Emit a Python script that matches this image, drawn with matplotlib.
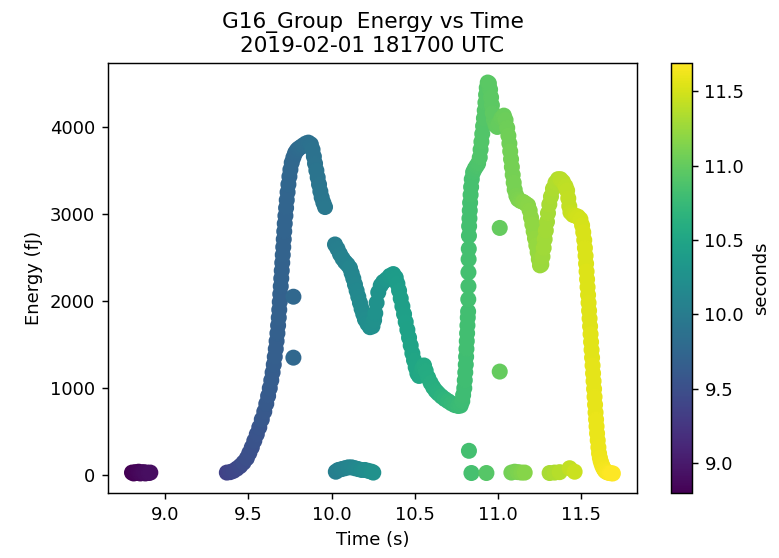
import matplotlib

matplotlib.use("Agg")

import matplotlib.pyplot as plt
import numpy as np

# group times (s) and energies (fJ), split by stretch of the flash
t_precursor = [8.80, 8.81, 8.82, 8.83, 8.84, 8.85, 8.86, 8.87, 8.88, 8.89, 8.90, 8.91]
e_precursor = [30, 20, 35, 25, 40, 20, 30, 35, 20, 30, 25, 30]

t_pulse1 = [
    9.37, 9.39, 9.41, 9.43, 9.45, 9.47, 9.49, 9.505, 9.52, 9.535, 9.55, 9.565,
    9.58, 9.595, 9.607, 9.618, 9.628, 9.637, 9.645, 9.652, 9.658, 9.664, 9.669,
    9.674, 9.678, 9.682, 9.685, 9.688, 9.691, 9.694, 9.697, 9.70, 9.703, 9.706,
    9.709, 9.712, 9.715, 9.718, 9.722, 9.726, 9.73, 9.735, 9.74, 9.746, 9.752,
    9.76, 9.77, 9.78, 9.79, 9.80, 9.815, 9.83, 9.845, 9.86, 9.875, 9.885, 9.893,
    9.90, 9.908, 9.916, 9.924, 9.932, 9.94, 9.95, 9.96,
]
e_pulse1 = [
    30, 35, 50, 75, 105, 145, 195, 255, 320, 395, 470, 550,
    640, 730, 820, 910, 1000, 1090, 1180, 1270, 1360, 1450, 1540,
    1630, 1720, 1810, 1900, 1990, 2080, 2170, 2260, 2350, 2440, 2530,
    2620, 2710, 2800, 2890, 2980, 3070, 3160, 3250, 3340, 3430, 3510,
    3590, 3650, 3700, 3730, 3750, 3770, 3790, 3810, 3820, 3800, 3740, 3660,
    3580, 3500, 3420, 3340, 3260, 3190, 3130, 3080,
]

t_pulse2 = [
    10.02, 10.035, 10.05, 10.065, 10.08, 10.095, 10.11, 10.12, 10.13, 10.14,
    10.15, 10.16, 10.17, 10.18, 10.19, 10.20, 10.215, 10.23, 10.245, 10.255,
    10.262, 10.27, 10.28, 10.295, 10.31, 10.33, 10.35, 10.37, 10.385, 10.395,
    10.405, 10.415, 10.425, 10.435, 10.445, 10.455, 10.465, 10.475, 10.485,
    10.495, 10.505, 10.515, 10.525, 10.535, 10.545, 10.555, 10.565, 10.58,
    10.595, 10.61, 10.625, 10.64, 10.66, 10.68, 10.70, 10.72, 10.74, 10.76,
    10.775,
]
e_pulse2 = [
    2650, 2600, 2540, 2490, 2450, 2420, 2380, 2320, 2260, 2190,
    2120, 2050, 1980, 1910, 1850, 1790, 1740, 1700, 1710, 1780,
    1860, 1980, 2100, 2180, 2220, 2250, 2290, 2310, 2270, 2200,
    2120, 2030, 1940, 1850, 1760, 1670, 1580, 1490, 1400,
    1320, 1240, 1170, 1140, 1170, 1230, 1260, 1200, 1120,
    1060, 1010, 970, 940, 905, 875, 850, 825, 805, 795,
    800,
]

t_pulse3 = [
    10.785, 10.79, 10.797, 10.80, 10.803, 10.806, 10.808, 10.81, 10.812, 10.814,
    10.816, 10.818, 10.82, 10.821, 10.822, 10.822, 10.823, 10.824, 10.825,
    10.826, 10.828, 10.830, 10.832, 10.835, 10.838, 10.842, 10.85, 10.86, 10.87,
    10.88, 10.89, 10.895, 10.90, 10.905, 10.91, 10.915, 10.92, 10.924, 10.928,
    10.932, 10.938, 10.945, 10.952, 10.958, 10.963, 10.968, 10.975, 10.985,
    10.995, 11.005, 11.02, 11.035, 11.045, 11.055, 11.062, 11.068, 11.073,
    11.078, 11.083, 11.088, 11.094, 11.10, 11.11, 11.12, 11.135, 11.15, 11.165,
    11.18, 11.19, 11.198, 11.206, 11.214, 11.222, 11.23, 11.238, 11.245,
    11.252, 11.26, 11.267, 11.274, 11.28, 11.287, 11.294, 11.30, 11.308,
    11.318, 11.33, 11.345, 11.36, 11.375, 11.39, 11.405, 11.415, 11.422,
    11.428, 11.435, 11.45, 11.465, 11.48, 11.495, 11.505, 11.512, 11.518,
    11.522, 11.526, 11.529, 11.532, 11.535, 11.538, 11.541, 11.544, 11.547,
    11.550, 11.553, 11.556, 11.559, 11.562, 11.565, 11.568, 11.571, 11.574,
    11.577, 11.580, 11.583, 11.586, 11.589, 11.592, 11.595, 11.599, 11.603,
    11.607, 11.612, 11.617, 11.623, 11.629, 11.636, 11.643, 11.651, 11.66,
    11.67, 11.68, 11.69,
]
e_pulse3 = [
    850, 920, 1000, 1090, 1180, 1270, 1360, 1450, 1540, 1630,
    1720, 1810, 1880, 2020, 2170, 2330, 2480, 2600, 2750,
    2860, 2950, 3040, 3130, 3220, 3310, 3400, 3480, 3520, 3550,
    3580, 3650, 3740, 3830, 3920, 4010, 4100, 4190, 4280, 4370,
    4450, 4510, 4500, 4430, 4340, 4250, 4160, 4080, 4020,
    4000, 4040, 4100, 4130, 4080, 3990, 3900, 3810, 3720,
    3630, 3540, 3450, 3360, 3280, 3210, 3170, 3150, 3140, 3120,
    3100, 3040, 2960, 2880, 2800, 2720, 2640, 2560, 2480,
    2410, 2420, 2510, 2610, 2710, 2810, 2910, 3010, 3110,
    3200, 3290, 3360, 3400, 3400, 3370, 3320, 3270, 3180,
    3090, 3020, 2990, 2980, 2970, 2940, 2870, 2790, 2700,
    2610, 2520, 2430, 2340, 2250, 2160, 2070, 1980, 1890,
    1800, 1710, 1620, 1530, 1440, 1350, 1260, 1170, 1080,
    990, 900, 810, 720, 640, 560, 480, 400, 320,
    250, 200, 160, 125, 95, 70, 50, 38, 30,
    25, 22, 20,
]

# stray low-energy and off-curve groups
t_stray = [
    10.025, 10.04, 10.06, 10.08, 10.10, 10.12, 10.14, 10.16, 10.18, 10.20,
    10.22, 10.24, 10.25, 9.77, 9.77, 10.825, 10.84, 10.93, 11.01, 11.01,
    11.08, 11.10, 11.12, 11.14, 11.16, 11.31, 11.34, 11.37, 11.43, 11.46,
]
e_stray = [
    40, 60, 70, 80, 90, 90, 80, 70, 60, 60,
    50, 40, 30, 2050, 1350, 280, 25, 25, 2840, 1190,
    30, 40, 35, 30, 30, 25, 30, 35, 80, 40,
]

time = np.concatenate([t_precursor, t_pulse1, t_stray[:13], t_pulse2,
                       t_stray[13:], t_pulse3])
energy = np.concatenate([e_precursor, e_pulse1, e_stray[:13], e_pulse2,
                         e_stray[13:], e_pulse3])
order = np.argsort(time, kind="stable")
time, energy = time[order], energy[order]

fig = plt.figure(figsize=(779 / 130, 558 / 130), dpi=130)
ax = fig.add_axes([0.1386, 0.1165, 0.679, 0.7706])
cax = fig.add_axes([0.861, 0.1165, 0.027, 0.7706])

sc = ax.scatter(time, energy, c=time, cmap="viridis", s=62)
ax.set_title("G16_Group  Energy vs Time\n2019-02-01 181700 UTC")
ax.set_xlabel("Time (s)")
ax.set_ylabel("Energy (fJ)")

cbar = fig.colorbar(sc, cax=cax)
cbar.set_label("seconds")

fig.savefig("out.png", dpi=130)
